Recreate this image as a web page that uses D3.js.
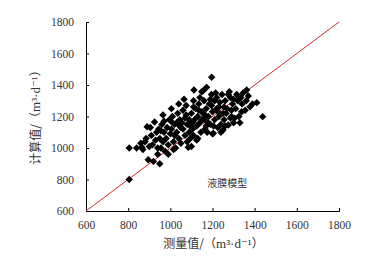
<!DOCTYPE html>
<html>
<head>
<meta charset="utf-8">
<script src="https://cdn.jsdelivr.net/npm/d3@7"></script>
<style>
  body { margin: 0; background: #fff; }
  svg { display: block; }
</style>
</head>
<body>
<div id="chart"></div>
<script>
const measured = [
  805, 805, 840,
  860, 865, 880, 890, 895, 870, 885, 900,
  920, 925, 910, 930, 940, 945, 915, 935, 950, 940, 905, 950,
  965, 960, 970, 980, 990, 955, 975, 985, 995, 965, 1000, 990, 970, 955,
  1005, 1010, 1020, 1030, 1040, 1015, 1025, 1045, 1035, 1050, 1005, 1015, 1040, 1030, 1020, 1050,
  1065, 1060, 1070, 1080, 1090, 1085, 1095, 1075, 1055, 1100, 1090, 1060, 1070, 1095, 1080, 1100,
  1112, 1149, 1125, 1110, 1120, 1130, 1140, 1105, 1115, 1135, 1145, 1125, 1150, 1110, 1140, 1130, 1150,
  1156, 1172, 1196, 1160, 1170, 1180, 1190, 1165, 1185, 1195, 1175, 1160, 1200, 1190, 1155, 1180, 1200,
  1204, 1210, 1220, 1230, 1240, 1215, 1225, 1235, 1245, 1250, 1210, 1240, 1220, 1250, 1230, 1205,
  1275, 1280, 1260, 1270, 1290, 1255, 1285, 1265, 1295, 1300, 1275, 1260, 1290, 1300,
  1310, 1320, 1330, 1338, 1315, 1340, 1325, 1345, 1305, 1335,
  1362, 1378, 1410, 1438, 1360, 1355, 1370, 1390,
  1045, 1075, 1105, 1135, 1165, 1195, 1225, 1255, 1285, 1010, 1110, 1170
];
const calculated = [
  800, 1000, 1000,
  1030, 1005, 1040, 1135, 925, 990, 1060, 1010,
  915, 1165, 1080, 1050, 1000, 1120, 1020, 1100, 900, 960, 1130, 1060,
  1210, 1150, 1100, 1060, 1020, 1000, 980, 1130, 1180, 1040, 1090, 960, 1170, 1110,
  1250, 1200, 1150, 1100, 1060, 1040, 1000, 1180, 1220, 1130, 1120, 990, 1280, 1160, 1080, 1030,
  1310, 1240, 1190, 1150, 1100, 1005, 1060, 1270, 1160, 1220, 1180, 1120, 1080, 1140, 1040, 1010,
  1368, 1357, 1050, 1300, 1250, 1200, 1160, 1120, 1180, 1280, 1100, 1140, 1230, 1080, 1320, 1060, 1180,
  1364, 1385, 1449, 1300, 1250, 1200, 1150, 1120, 1280, 1340, 1100, 1180, 1230, 1310, 1220, 1160, 1090,
  1093, 1300, 1250, 1200, 1150, 1350, 1130, 1290, 1340, 1220, 1180, 1100, 1320, 1114, 1260, 1140,
  1146, 1357, 1300, 1250, 1200, 1180, 1320, 1220, 1280, 1160, 1340, 1140, 1240, 1310,
  1250, 1300, 1160, 1230, 1340, 1280, 1200, 1350, 1190, 1320,
  1368, 1262, 1288, 1199, 1300, 1240, 1330, 1280,
  1140, 1210, 1160, 1240, 1210, 1270, 1230, 1260, 1190, 1160, 1260, 1140
];
const xTicks = [600, 800, 1000, 1200, 1400, 1600, 1800];
const yTicks = [600, 800, 1000, 1200, 1400, 1600, 1800];
const modelName = "液膜模型";

const W = 378, H = 257;
const margin = { top: 22, right: 39, bottom: 46, left: 86 };
const width = W - margin.left - margin.right;
const height = H - margin.top - margin.bottom;

const svg = d3.select("#chart").append("svg")
  .attr("width", W)
  .attr("height", H)
  .append("g")
  .attr("transform", `translate(${margin.left},${margin.top})`);

const x = d3.scaleLinear().domain([600, 1800]).range([0, width]);
const y = d3.scaleLinear().domain([600, 1800]).range([height, 0]);

const numFont = "'Liberation Serif', 'DejaVu Serif', serif";
const cjkFont = "'Noto Sans CJK SC', sans-serif";

// X axis (ticks point inward)
const gx = svg.append("g")
  .attr("transform", `translate(0,${height})`)
  .call(d3.axisBottom(x).tickValues(xTicks).tickSize(-3).tickPadding(10).tickFormat(d3.format("d")));
gx.select(".domain").attr("stroke", "#000");
gx.selectAll(".tick line").attr("stroke", "#000");
gx.selectAll("text").style("font-family", numFont).style("font-size", "11.5px").attr("fill", "#333");

// Y axis
const gy = svg.append("g")
  .call(d3.axisLeft(y).tickValues(yTicks).tickSize(-3).tickPadding(12).tickFormat(d3.format("d")));
gy.select(".domain").attr("stroke", "#000");
gy.selectAll(".tick line").attr("stroke", "#000");
gy.selectAll("text").style("font-family", numFont).style("font-size", "11.5px").attr("fill", "#333");

// 1:1 line
svg.append("line")
  .attr("x1", x(600)).attr("y1", y(600))
  .attr("x2", x(1800)).attr("y2", y(1800))
  .attr("stroke", "#d8262f")
  .attr("stroke-width", 1);

// Points (diamonds)
const pts = measured.map((m, i) => ({ m, c: calculated[i] }));
const r = 3.7;
svg.selectAll(".pt")
  .data(pts)
  .enter().append("path")
  .attr("class", "pt")
  .attr("d", `M0,${-r}L${r},0L0,${r}L${-r},0Z`)
  .attr("transform", d => `translate(${x(d.m)},${y(d.c)})`)
  .attr("fill", "#000");

// Model name
svg.append("text")
  .attr("x", x(1270))
  .attr("y", y(750))
  .attr("text-anchor", "middle")
  .style("font-family", cjkFont)
  .style("font-size", "10px")
  .attr("fill", "#333")
  .text(modelName);

// Axis labels: CJK name + serif unit
function axisLabel(sel, name) {
  sel.style("font-size", "12px").attr("fill", "#333");
  sel.append("tspan").style("font-family", cjkFont).text(name + "/（");
  sel.append("tspan").style("font-family", numFont).style("font-size", "13px").text("m³·d⁻¹");
  sel.append("tspan").style("font-family", cjkFont).text("）");
}

svg.append("text")
  .attr("x", width / 2 + 1)
  .attr("y", height + 37)
  .attr("text-anchor", "middle")
  .call(axisLabel, "测量值");

svg.append("text")
  .attr("transform", "rotate(-90)")
  .attr("x", -height / 2 + 2)
  .attr("y", -46)
  .attr("text-anchor", "middle")
  .call(axisLabel, "计算值");
</script>
</body>
</html>
